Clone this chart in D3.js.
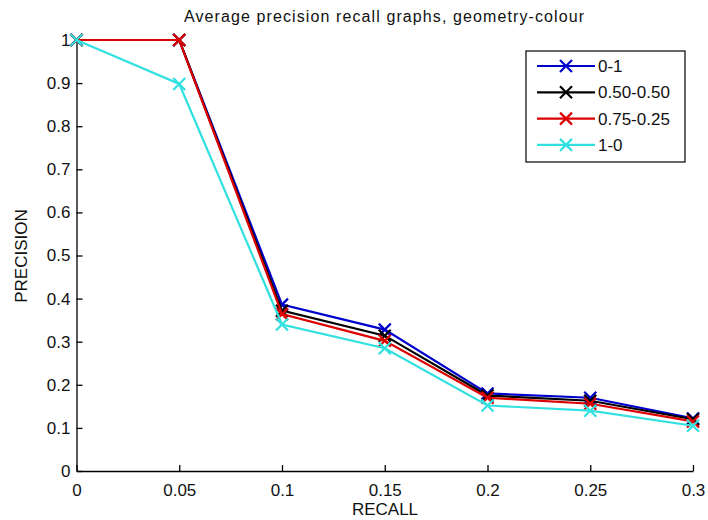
<!DOCTYPE html>
<html><head><meta charset="utf-8">
<script src="https://cdn.jsdelivr.net/npm/d3@7"></script>
<style>body{margin:0;background:#fff}svg{display:block}text{font-family:"Liberation Sans",Arial,sans-serif}</style>
</head><body><svg id="c" width="708" height="520"></svg>
<script>
const recall = [0, 0.05, 0.1, 0.15, 0.2, 0.25, 0.3];
const s01 = [1, 1, 0.386, 0.328, 0.180, 0.170, 0.122];
const s5050 = [1, 1, 0.372, 0.314, 0.175, 0.163, 0.120];
const s7525 = [1, 1, 0.364, 0.302, 0.170, 0.156, 0.115];
const s10 = [1, 0.898, 0.340, 0.285, 0.152, 0.140, 0.105];
const seriesNames = ["0-1", "0.50-0.50", "0.75-0.25", "1-0"];
const xTicks = [0, 0.05, 0.1, 0.15, 0.2, 0.25, 0.3];
const xTickLabels = ["0", "0.05", "0.1", "0.15", "0.2", "0.25", "0.3"];
const yTicks = [0, 0.1, 0.2, 0.3, 0.4, 0.5, 0.6, 0.7, 0.8, 0.9, 1];
const yTickLabels = ["0", "0.1", "0.2", "0.3", "0.4", "0.5", "0.6", "0.7", "0.8", "0.9", "1"];

const series = [s01, s5050, s7525, s10];
const colors = ["#0000cc", "#000000", "#dd0000", "#33e0e0"];

const svg = d3.select("#c");
const x = d3.scaleLinear().domain([0, 0.3]).range([76.5, 693]);
const y = d3.scaleLinear().domain([0, 1]).range([471, 40]);

// axes
const xa = svg.append("g").attr("transform", `translate(0,${y(0)})`)
  .call(d3.axisBottom(x).tickValues(xTicks).tickFormat((d,i)=>xTickLabels[i]).tickSizeInner(-6).tickSizeOuter(0).tickPadding(13));
const ya = svg.append("g").attr("transform", `translate(${x(0)},0)`)
  .call(d3.axisLeft(y).tickValues(yTicks).tickFormat((d,i)=>yTickLabels[i]).tickSizeInner(-6).tickSizeOuter(0).tickPadding(6));
[xa, ya].forEach(a => {
  a.selectAll("path,line").attr("stroke", "#000").attr("stroke-width", 1.3);
  a.selectAll("text").attr("font-size", 17).attr("fill", "#111").attr("font-family", '"Liberation Sans",Arial,sans-serif');
});

const line = d3.line().x((d,i)=>x(recall[i])).y(d=>y(d));
function cross(g, cx, cy, col, r) {
  g.append("path").attr("d", `M${cx-r},${cy-r}L${cx+r},${cy+r}M${cx-r},${cy+r}L${cx+r},${cy-r}`)
    .attr("stroke", col).attr("stroke-width", 2.2).attr("fill", "none");
}
series.forEach((s, k) => {
  const g = svg.append("g");
  g.append("path").datum(s).attr("d", line).attr("fill", "none").attr("stroke", colors[k]).attr("stroke-width", 2.2);
  s.forEach((v, i) => cross(g, x(recall[i]), y(v), colors[k], 6));
});

// title & labels
svg.append("text").attr("x", 384).attr("y", 22).attr("text-anchor", "middle").attr("font-size", 16).attr("fill", "#111")
  .attr("textLength", 400).attr("lengthAdjust", "spacing")
  .text("Average precision recall graphs, geometry-colour");
svg.append("text").attr("x", 385).attr("y", 515).attr("text-anchor", "middle").attr("font-size", 17).attr("fill", "#111").text("RECALL");
svg.append("text").attr("transform", "translate(27,256) rotate(-90)").attr("text-anchor", "middle").attr("font-size", 17).attr("fill", "#111").text("PRECISION");

// legend
const lg = svg.append("g");
lg.append("rect").attr("x", 526).attr("y", 51).attr("width", 159).attr("height", 111).attr("fill", "#fff").attr("stroke", "#000").attr("stroke-width", 1.2);
seriesNames.forEach((n, k) => {
  const ly = 66 + k * 26.3;
  lg.append("line").attr("x1", 537).attr("x2", 595).attr("y1", ly).attr("y2", ly).attr("stroke", colors[k]).attr("stroke-width", 2.2);
  cross(lg, 566, ly, colors[k], 6);
  lg.append("text").attr("x", 598).attr("y", ly + 6).attr("font-size", 17).attr("fill", "#111").text(n);
});
</script></body></html>
